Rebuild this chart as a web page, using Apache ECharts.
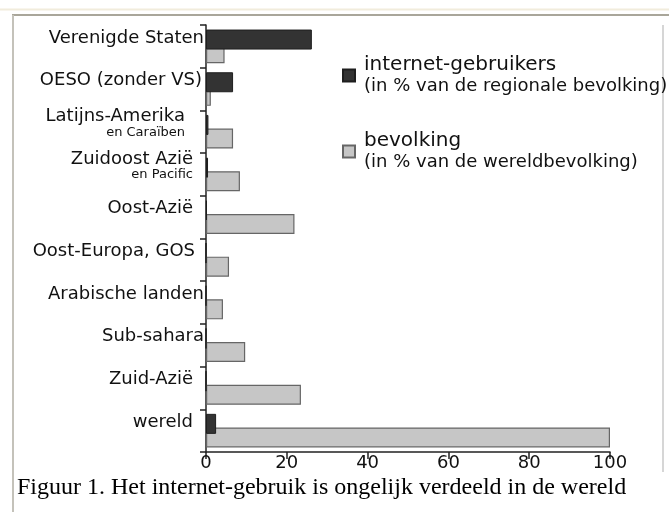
<!DOCTYPE html>
<html>
<head>
<meta charset="utf-8">
<script src="https://cdn.jsdelivr.net/npm/echarts@6/dist/echarts.min.js"></script>
<style>
  html, body { margin: 0; padding: 0; background: #fff; }
  #chart { width: 669px; height: 512px; }
</style>
</head>
<body>
<div id="chart"></div>
<script>
  'use strict';

  // regio's, van boven naar onder
  const regions = [
    'Verenigde Staten',
    'OESO (zonder VS)',
    'Latijns-Amerika\nen Caraïben',
    'Zuidoost Azië\nen Pacific',
    'Oost-Azië',
    'Oost-Europa, GOS',
    'Arabische landen',
    'Sub-sahara',
    'Zuid-Azië',
    'wereld'
  ];
  // internet-gebruikers, % van de regionale bevolking
  const internetUsers = [26.2, 6.7, 0.6, 0.5, 0.2, 0, 0, 0, 0, 2.5];
  // bevolking, % van de wereldbevolking
  const population = [4.6, 1.2, 6.7, 8.4, 21.9, 5.7, 4.2, 9.7, 23.5, 100];
  const xTicks = [0, 20, 40, 60, 80, 100];

  const seriesNames = ['internet-gebruikers', 'bevolking'];
  const legendNotes = {
    'internet-gebruikers': '(in % van de regionale bevolking)',
    'bevolking': '(in % van de wereldbevolking)'
  };

  // how far each label sits back from the axis line (px)
  const labelInset = {
    'OESO (zonder VS)': 2,
    'Latijns-Amerika\nen Caraïben': 19,
    'Zuidoost Azië\nen Pacific': 11,
    'Oost-Azië': 11,
    'Oost-Europa, GOS': 9,
    'Zuid-Azië': 11,
    'wereld': 11
  };

  const FONT = 'DejaVu Sans';
  const INK = '#111';
  const rich = {};
  [0, 2, 9, 11, 19].forEach((p) => {
    rich['m' + p] = { fontFamily: FONT, fontSize: 18, lineHeight: 18, color: INK, padding: [0, p, 0, 0] };
    rich['s' + p] = { fontFamily: FONT, fontSize: 13, lineHeight: 14, color: INK, padding: [0, p, 0, 0] };
  });

  const chart = echarts.init(document.getElementById('chart'), null, { renderer: 'canvas' });

  chart.setOption({
    animation: false,
    backgroundColor: '#ffffff',
    title: {
      text: 'Figuur 1. Het internet-gebruik is ongelijk verdeeld in de wereld',
      left: 17,
      top: 476,
      padding: 0,
      textStyle: {
        fontFamily: 'Liberation Serif',
        fontSize: 24,
        fontWeight: 'normal',
        color: '#000'
      }
    },
    legend: {
      data: seriesNames,
      orient: 'vertical',
      left: 342,
      top: 55,
      padding: 0,
      itemGap: 36,
      itemWidth: 12,
      itemHeight: 12,
      icon: 'rect',
      selectedMode: false,
      formatter: (name) => '{a|' + name + '}\n{b|' + legendNotes[name] + '}',
      textStyle: {
        rich: {
          a: { fontFamily: FONT, fontSize: 20, lineHeight: 21, color: INK, padding: [0, 0, 0, 4] },
          b: { fontFamily: FONT, fontSize: 18, lineHeight: 21, color: INK, padding: [0, 0, 0, 4] }
        }
      }
    },
    grid: {
      left: 206,
      right: 59,
      top: 25,
      bottom: 60,
      containLabel: false
    },
    xAxis: {
      type: 'value',
      min: xTicks[0],
      max: xTicks[xTicks.length - 1],
      interval: xTicks[1] - xTicks[0],
      splitLine: { show: false },
      axisLine: { show: true, lineStyle: { color: '#222', width: 1.5 } },
      axisTick: { show: true, length: 7, lineStyle: { color: '#222', width: 1.5 } },
      axisLabel: {
        margin: 2,
        fontFamily: FONT,
        fontSize: 18,
        color: INK
      }
    },
    yAxis: {
      type: 'category',
      data: regions,
      inverse: true,
      axisLine: { show: true, lineStyle: { color: '#222', width: 1.5 } },
      axisTick: { show: true, length: 6, inside: false, lineStyle: { color: '#222', width: 1.5 } },
      axisLabel: {
        margin: 2,
        interval: 0,
        align: 'right',
        padding: [0, 0, 17, 0],
        formatter: (value) => {
          const p = labelInset[value] || 0;
          const parts = value.split('\n');
          let out = '{m' + p + '|' + parts[0] + '}';
          if (parts[1]) out += '\n{s' + p + '|' + parts[1] + '}';
          return out;
        },
        rich: rich
      }
    },
    series: [
      {
        name: seriesNames[0],
        type: 'bar',
        data: internetUsers,
        barWidth: 20,
        barGap: '-32%',
        z: 3,
        itemStyle: { color: '#333333', borderColor: '#1e1e1e', borderWidth: 1 }
      },
      {
        name: seriesNames[1],
        type: 'bar',
        data: population,
        barWidth: 20,
        z: 2,
        itemStyle: { color: '#c6c6c6', borderColor: '#666666', borderWidth: 1.2 }
      }
    ],
    graphic: [
      { type: 'line', silent: true, shape: { x1: 0, y1: 9.5, x2: 669, y2: 9.5 }, style: { stroke: '#f1ecdc', lineWidth: 2 } },
      { type: 'line', silent: true, shape: { x1: 12, y1: 15, x2: 669, y2: 15 }, style: { stroke: '#a9a69a', lineWidth: 2 } },
      { type: 'line', silent: true, shape: { x1: 13, y1: 15, x2: 13, y2: 512 }, style: { stroke: '#c4c2ba', lineWidth: 2 } },
      { type: 'line', silent: true, shape: { x1: 663, y1: 25, x2: 663, y2: 472 }, style: { stroke: '#d6d6d6', lineWidth: 2 } }
    ]
  });
</script>
</body>
</html>
